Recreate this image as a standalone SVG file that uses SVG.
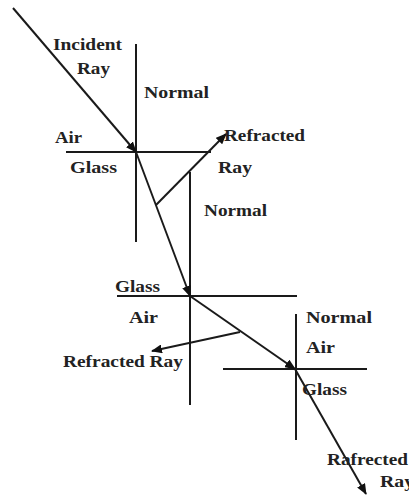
<svg xmlns="http://www.w3.org/2000/svg" width="409" height="495" viewBox="0 0 409 495">
<defs>
<marker id="arr" markerUnits="userSpaceOnUse" markerWidth="11" markerHeight="9" refX="10" refY="4.5" orient="auto">
<path d="M0,0 L11,4.5 L0,9 z" fill="#111"/>
</marker>
<style>
.ln{stroke:#1a1a1a;stroke-width:2;fill:none}
.ray{stroke:#1a1a1a;stroke-width:2;fill:none;marker-end:url(#arr)}
text{font-family:"Liberation Serif","Times New Roman",serif;font-weight:bold;font-size:17px;fill:#222}
</style>
</defs>
<rect width="409" height="495" fill="#fff"/>
<g id="surfaces">
<line class="ln" x1="66" y1="152" x2="211" y2="152"/>
<line class="ln" x1="136" y1="44" x2="136" y2="242"/>
<line class="ln" x1="190" y1="172" x2="190" y2="405"/>
<line class="ln" x1="117" y1="296" x2="297" y2="296"/>
<line class="ln" x1="223" y1="369" x2="367" y2="369"/>
<line class="ln" x1="296" y1="314" x2="296" y2="440"/>
</g>
<g id="connectors">
<line class="ray" x1="13" y1="8" x2="136" y2="152"/>
<line class="ray" x1="136" y1="152" x2="190" y2="296"/>
<line class="ray" x1="156" y1="205" x2="226" y2="134"/>
<line class="ray" x1="190" y1="296" x2="295" y2="369"/>
<line class="ray" x1="240" y1="332" x2="152" y2="351"/>
<line class="ray" x1="295" y1="369" x2="366" y2="494"/>
</g>
<g id="labels">
<text x="53" y="50" textLength="69" lengthAdjust="spacingAndGlyphs">Incident</text>
<text x="77" y="74" textLength="33" lengthAdjust="spacingAndGlyphs">Ray</text>
<text x="144" y="98" textLength="65" lengthAdjust="spacingAndGlyphs">Normal</text>
<text x="55" y="143" textLength="27" lengthAdjust="spacingAndGlyphs">Air</text>
<text x="70" y="173" textLength="47" lengthAdjust="spacingAndGlyphs">Glass</text>
<text x="224" y="141" textLength="81" lengthAdjust="spacingAndGlyphs">Refracted</text>
<text x="218" y="173" textLength="34" lengthAdjust="spacingAndGlyphs">Ray</text>
<text x="204" y="216" textLength="63" lengthAdjust="spacingAndGlyphs">Normal</text>
<text x="115" y="292" textLength="45" lengthAdjust="spacingAndGlyphs">Glass</text>
<text x="129" y="323" textLength="29" lengthAdjust="spacingAndGlyphs">Air</text>
<text x="63" y="367" textLength="120" lengthAdjust="spacingAndGlyphs">Refracted Ray</text>
<text x="306" y="323" textLength="66" lengthAdjust="spacingAndGlyphs">Normal</text>
<text x="306" y="353" textLength="29" lengthAdjust="spacingAndGlyphs">Air</text>
<text x="302" y="395" textLength="45" lengthAdjust="spacingAndGlyphs">Glass</text>
<text x="327" y="465" textLength="81" lengthAdjust="spacingAndGlyphs">Rafrected</text>
<text x="380" y="487" textLength="34" lengthAdjust="spacingAndGlyphs">Ray</text>
</g>
</svg>
